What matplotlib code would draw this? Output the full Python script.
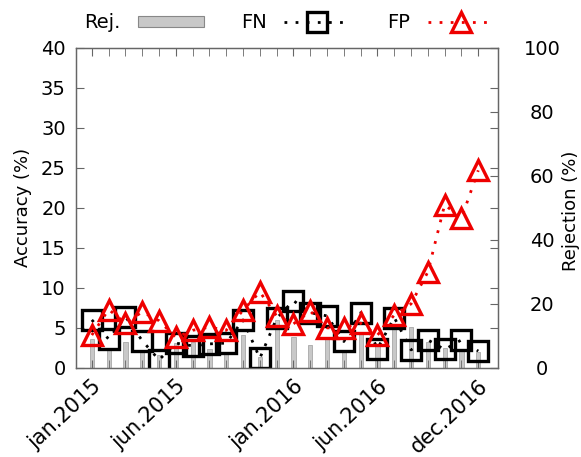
import matplotlib
matplotlib.use("Agg")
import matplotlib.pyplot as plt
from matplotlib.patches import Patch
from matplotlib.lines import Line2D
import numpy as np

months = list(range(24))
tick_months = [0, 5, 12, 17, 23]
tick_labels = ["jan.2015", "jun.2015", "jan.2016", "jun.2016", "dec.2016"]

fn = [6.0, 3.6, 6.4, 3.4, 1.0, 3.1, 2.75, 3.0, 3.1, 6.0, 1.2, 6.2,
      8.4, 6.9, 6.5, 3.3, 6.9, 2.4, 6.3, 2.25, 3.5, 2.3, 3.5, 2.1]
fp = [4.1, 7.3, 5.6, 7.0, 5.9, 3.8, 4.7, 5.1, 4.7, 7.2, 9.5, 6.5,
      5.5, 7.1, 5.0, 5.0, 5.6, 4.1, 6.6, 8.0, 12.0, 20.4, 18.7, 24.7]
rej = [9.0, 6.0, 8.0, 5.0, 4.0, 7.7, 8.2, 6.0, 5.0, 10.3, 3.5, 15.0,
       9.8, 7.2, 9.2, 5.5, 10.5, 7.0, 13.2, 12.8, 8.2, 6.1, 6.0, 5.0]

plt.rcParams['font.family'] = ['DejaVu Sans']
FS = 14

fig = plt.figure(figsize=(5.81, 4.57), dpi=100)
ax1 = fig.add_axes([0.130, 0.195, 0.727, 0.700])
ax2 = ax1.twinx()
ax1.set_zorder(ax2.get_zorder() + 1)
ax1.patch.set_visible(False)

ax2.bar(months, rej, width=0.25, color='#c8c8c8', edgecolor='#a8a8a8', linewidth=0.6)
ax2.set_ylim(0, 100)
ax2.set_yticks([0, 20, 40, 60, 80, 100])

ax1.plot(months, fn, linestyle=(0, (1, 3)), color='black', linewidth=2,
         marker='s', markersize=14, markerfacecolor='none', markeredgecolor='black',
         markeredgewidth=2.4)
ax1.plot(months, fp, linestyle=(0, (1, 3)), color='#ee0000', linewidth=2,
         marker='^', markersize=14, markerfacecolor='none', markeredgecolor='#ee0000',
         markeredgewidth=2.4)

ax1.set_xlim(-0.97, 24.17)
ax1.set_ylim(0, 40)
ax1.set_yticks(range(0, 41, 5))
ax1.set_xticks(tick_months)
ax1.set_xticklabels(tick_labels, rotation=43, ha='right', rotation_mode='anchor', fontsize=15)
ax1.set_xticks(months, minor=True)

ax1.tick_params(axis='y', labelsize=FS)
ax1.tick_params(axis='both', which='both', direction='in', color='#666666')
ax1.tick_params(axis='x', which='both', top=True, length=6, pad=6)
ax1.tick_params(axis='y', which='both', right=True, length=6, pad=7)
ax2.tick_params(axis='y', direction='in', length=6, color='#666666', labelsize=FS, pad=32)
for lab in ax2.get_yticklabels():
    lab.set_horizontalalignment('center')

for ax in (ax1, ax2):
    for s in ax.spines.values():
        s.set_color('#666666')
        s.set_linewidth(0.9)

ax1.set_ylabel('Accuracy (%)', fontsize=13, va='center')
ax1.yaxis.set_label_coords(-0.125, 0.5)
ax2.set_ylabel('Rejection (%)', fontsize=13, va='center', rotation=90)
ax2.yaxis.set_label_coords(1.174, 0.49)

handles = [
    Patch(facecolor='#c8c8c8', edgecolor='#888888', linewidth=0.8),
    Line2D([], [], linestyle=(0, (1, 3)), color='black', linewidth=2, marker='s',
           markersize=14, markerfacecolor='none', markeredgewidth=2.4),
    Line2D([], [], linestyle=(0, (1, 3)), color='#ee0000', linewidth=2, marker='^',
           markersize=14, markerfacecolor='none', markeredgewidth=2.4),
]
fig.legend(handles, ['Rej.', 'FN', 'FP'], loc='center', bbox_to_anchor=(0.497, 0.95),
           ncol=3, frameon=False, markerfirst=False, fontsize=FS,
           handlelength=3.4, handleheight=0.55, columnspacing=1.9, handletextpad=0.9)

fig.savefig('out.png', dpi=100)
